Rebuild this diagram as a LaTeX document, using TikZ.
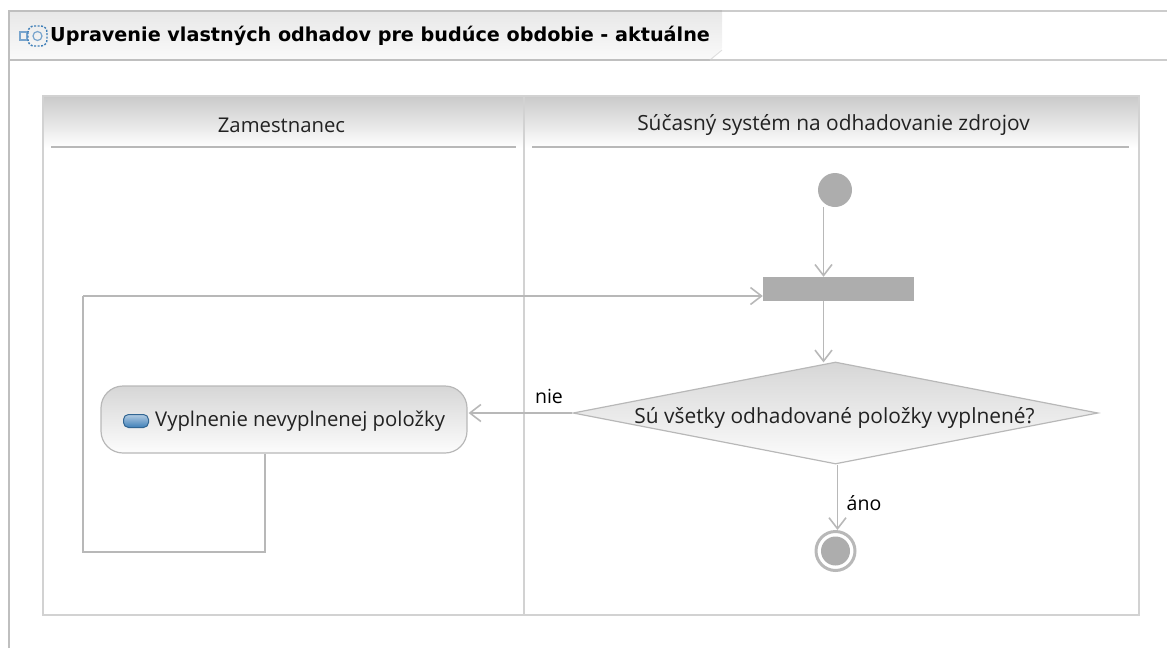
\documentclass[tikz,border=0pt]{standalone}
\usepackage{fontspec}
\setmainfont{Open Sans}
\newfontfamily\titlefont{DejaVu Sans}
\usetikzlibrary{arrows.meta,shapes.geometric}

\definecolor{linegray}{HTML}{B8B8B8}
\definecolor{fillgray}{HTML}{ADADAD}
\definecolor{textgray}{HTML}{222222}
\definecolor{iconblue}{HTML}{3F7FB8}

\tikzset{
	flow/.style={draw=linegray, line width=1.5pt, -{Straight Barb[length=11pt,width=17pt,line width=1.6pt]}},
	flowplain/.style={draw=linegray, line width=1.5pt},
	lanetitle/.style={font=\fontsize{20.3}{24}\selectfont, text=textgray, inner sep=0pt},
	widetitle/.style={font=\fontsize{20.9}{24}\selectfont, text=textgray, inner sep=0pt},
	guard/.style={font=\fontsize{19.5}{24}\selectfont, text=black, inner sep=0pt},
}

\begin{document}
\begin{tikzpicture}[x=1pt,y=-1pt]

\def\width{1167}
\def\height{648}
\def\split{524}

\path [use as bounding box] (0,0) rectangle (\width,\height);

% TAB
\path [top color=gray!18, bottom color=gray!4] (9,12) -- (722,12) -- (722,48) -- (710,60) -- (9,60) -- cycle;
\draw [line width=2.5pt, color=gray!50] (9,648) -- (9,11) -- (722,11);
\draw [line width=1.5pt, color=gray!40] (722,11) -- (\width,11);
\draw [line width=2pt, color=gray!50] (9,60) -- (710,60);
\draw [line width=1pt, color=gray!25] (710,60) -- (722,50);
\draw [line width=1.5pt, color=gray!40] (710,60) -- (\width,60);
\node (title) [anchor=west, inner sep=0pt, font=\titlefont\bfseries\fontsize{19.2}{24}\selectfont, text=black] at (50,36) {Upravenie vlastných odhadov pre budúce obdobie - aktuálne};

% TAB ICON
\draw [line width=1.2pt, color=iconblue!70] (20,32) rectangle (27,40);
\draw [line width=1.4pt, color=iconblue, dash pattern=on 2pt off 1.5pt, rounded corners=6pt] (28,26) rectangle (47,46);
\draw [line width=1.2pt, color=iconblue!70] (37.5,36) circle (4.5);

% LANES
\shade [top color=gray!42, bottom color=white] (43,96) rectangle (1139,148);
\draw [line width=1.2pt, color=gray!35] (43,96) rectangle (1139,615);
\draw [line width=1.2pt, color=gray!35] (\split,96) -- (\split,615);
\draw [line width=1.2pt, color=linegray] (51,147) -- (516,147);
\draw [line width=1.2pt, color=linegray] (532,147) -- (1129,147);
\node (zamestnanec) [lanetitle] at (281.5,125) {Zamestnanec};
\node (system) [widetitle] at (833.5,125) {Súčasný systém na odhadovanie zdrojov};

% NODES
\node (initial) [circle, fill=fillgray, minimum size=34pt, inner sep=0pt] at (835,190) {};
\node (fork) [rectangle, fill=fillgray, minimum width=151pt, minimum height=24pt, inner sep=0pt] at (838.5,289) {};
\node (decision) [diamond, draw=linegray, line width=1.2pt, top color=gray!32, bottom color=gray!2, aspect=5.15, minimum width=525pt, minimum height=102pt, inner sep=0pt] at (835.5,413) {};
\node (decisiontext) [widetitle] at (834.5,418) {Sú všetky odhadované položky vyplnené?};
\node (final) [circle, draw=linegray, line width=3pt, fill=white, minimum size=39pt, inner sep=0pt] at (835.5,551) {};
\node (finaldot) [circle, fill=fillgray, minimum size=29pt, inner sep=0pt] at (835.5,551) {};
\node (activity) [rectangle, rounded corners=22pt, draw=linegray, line width=1.2pt, top color=gray!32, bottom color=gray!2, minimum width=366pt, minimum height=67pt, inner sep=0pt] at (284,419.5) {};
\node (activitytext) [lanetitle, anchor=west] at (155,421) {Vyplnenie nevyplnenej položky};
\node (activityicon) [rectangle, rounded corners=5pt, draw=iconblue!80!black, line width=1pt, top color=iconblue!40, bottom color=iconblue, minimum width=25pt, minimum height=13pt, inner sep=0pt] at (136,421) {};

% LOOP
\coordinate (loopa) at (265,552);
\coordinate (loopb) at (83,552);
\coordinate (loopc) at (83,296);
\draw [flowplain] (activity.south -| loopa) -- (loopa) -- (loopb) -- (loopc);
\draw [flow] (loopc) -- (loopc -| fork.west);

% FLOWS
\coordinate (inout) at (823.5,240);
\coordinate (yes) at (837.5,500);
\draw [flow] (inout |- initial.south) -- (inout |- fork.north);
\draw [flow, shorten >=-1pt] (inout |- fork.south) -- (inout |- decision.north);
\draw [flow, shorten >=1pt] (decision.west) -- (decision.west -| activity.east);
\draw [flow] (yes |- decision.south) -- (yes |- final.north);
\node (nie) [guard] at (549,396) {nie};
\node (ano) [guard] at (864,503) {áno};

\end{tikzpicture}
\end{document}
